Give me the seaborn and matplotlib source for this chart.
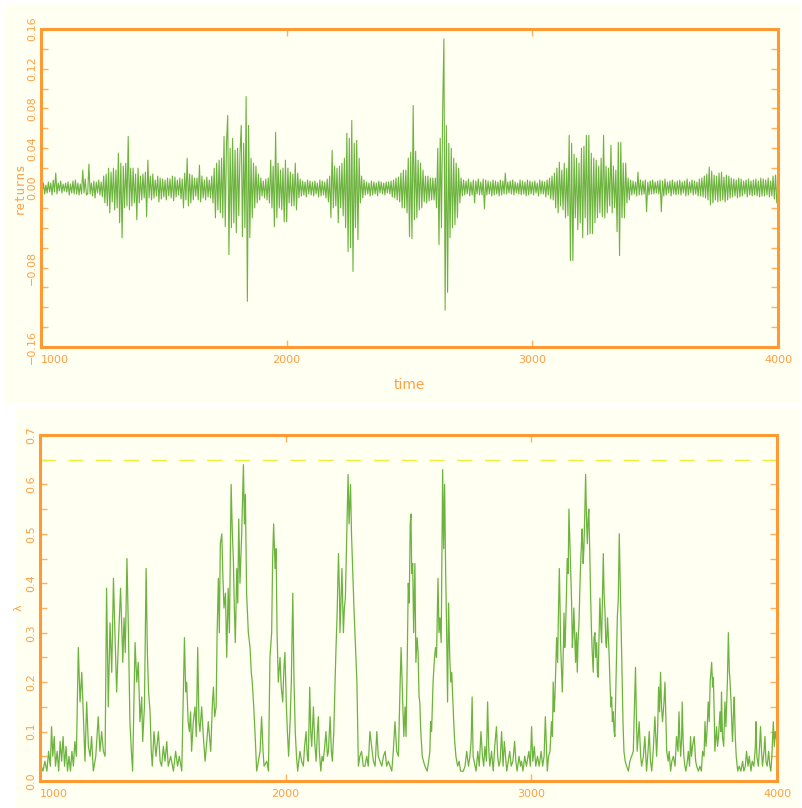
import numpy as np
import pandas as pd
import matplotlib
matplotlib.use("Agg")
import matplotlib.pyplot as plt
import seaborn as sns
from matplotlib.patches import Rectangle

# ---------------- data ----------------
# returns, sampled every 5 time steps from t=1000, in units of 0.001
ret_start, ret_step = 1000, 5
returns_milli = [
    4, -3, 5, -6, 3, -5, 6, -4, 5, -7, 8, -4, 15, -6, 5, -3, 7, -5, 4, -3,                 # 1000
    5, -4, 6, -7, 4, -5, 7, -6, 8, -6, 5, -7, 4, -6, 18, -5, 9, -7, -6, 24,                # 1100
    -6, 5, -8, 7, -10, 6, -5, 8, -7, 6, -9, 12, -15, 14, -18, 20, -25, 16, -14, 20,        # 1200
    -22, 18, -20, 35, -35, 25, -50, 22, -20, 25, -18, 52, -22, 20, -18, 20, -15, 14, -32, 20,  # 1300
    -15, 12, -12, 14, -10, 16, -29, 28, -10, 12, -12, 14, -10, 8, -8, 12, -14, 10, -11, 9,     # 1400
    -9, 8, -12, 10, -8, 9, -10, 12, -13, 11, -9, 8, -7, 10, -11, 9, -20, 15, -12, 30,      # 1500
    -18, 14, -15, 13, -12, 10, -8, 10, -12, 23, -14, 12, -10, 8, -12, 11, -9, 8, -10, 12,  # 1600
    -15, 20, -30, 25, -22, 28, -25, 30, -30, 52, -39, 45, 73, -67, 40, -40, 50, -35, 38, -45,  # 1700
    40, -28, 35, 63, -49, 45, -40, 92, -114, 63, -50, 30, -30, 25, -20, 22, -15, 14, -12, 10,  # 1800
    -8, 7, -10, 9, -12, 10, -15, 28, -20, 22, -39, 56, -30, 25, -20, 18, -22, 20, -34, 28,     # 1900
    -34, 20, -15, 16, -18, 14, -18, 25, -22, 15, -10, 9, -8, 7, -7, 6, -9, 8, -6, 7,       # 2000
    -7, 6, -8, 7, -6, 5, -9, 8, -8, 7, -7, 6, -10, 9, -14, 12, -30, 38, -20, 22,           # 2100
    -18, 20, -35, 22, -20, 25, -28, 30, -40, 55, -64, 50, -60, 68, -84, 45, -40, 48, -52, 30,  # 2200
    -15, 12, -10, 8, -7, 6, -6, 5, -8, 7, -7, 6, -6, 5, -8, 7, -5, 6, -6, 5,               # 2300
    -7, 6, -5, 6, -6, 7, -9, 8, -10, 10, -12, 11, -14, 15, -20, 18, -20, 18, -25, 30,      # 2400
    -49, 36, -51, 83, -32, 37, -30, 28, -22, 25, -20, 18, -14, 12, -15, 12, -13, 10, -12, 10,  # 2500
    -12, 10, -20, 40, -57, 50, -40, 77, 150, -123, 63, -105, 45, -50, 40, -40, 30, -37, 25, -30,  # 2600
    20, -15, 10, -8, 8, -7, 7, -6, 9, -8, 6, -7, 8, -15, 7, -6, 9, -7, 6, -7,              # 2700
    9, -21, 8, -7, 7, -6, 6, -8, 8, -7, 7, -6, 6, -8, 8, -7, 7, -6, 15, -6,                # 2800
    6, -5, 7, -6, 8, -7, 6, -5, 5, -6, 8, -7, 7, -6, 6, -8, 8, -7, 7, -6,                  # 2900
    6, -7, 7, -5, 5, -8, 8, -6, 7, -6, 6, -9, 8, -7, 10, -11, 12, -12, 15, -20,            # 3000
    20, -25, 26, -18, 18, -22, 25, -30, 20, -28, 53, -73, 45, -73, 34, -30, 30, -42, 25, -35,  # 3100
    40, -50, 42, -30, 53, -47, 53, -46, 35, -46, 30, -35, 28, -30, 22, -25, 30, -29, 53, -30,  # 3200
    22, -25, 20, -18, 43, -25, 22, -20, 18, -44, 46, -68, 46, -30, 25, -30, 25, -15, 10, -12,  # 3300
    8, -7, 7, -6, 6, -8, 16, -7, 8, -7, 7, -6, 8, -24, 6, -7, 7, -6, 8, -6,                # 3400
    6, -5, 7, -6, 8, -24, 7, -8, 9, -7, 6, -5, 7, -8, 8, -6, 6, -7, 7, -6,                 # 3500
    8, -7, 6, -5, 7, -8, 9, -7, 6, -5, 8, -7, 7, -6, 6, -8, 9, -8, 10, -9,                 # 3600
    12, -10, 14, -12, 21, -17, 17, -15, 13, -12, 12, -14, 15, -13, 16, -12, 11, -14, 13, -12,  # 3700
    12, -10, 10, -9, 9, -8, 8, -10, 10, -9, 9, -8, 7, -6, 8, -9, 9, -7, 7, -8,             # 3800
    8, -7, 9, -8, 7, -9, 10, -8, 9, -8, 8, -7, 10, -9, 7, -8, 12, -11, 13, -15,            # 3900
]

lam_t = [
    1000, 1005, 1012, 1020, 1028, 1035, 1042, 1047, 1052, 1058, 1063, 1070, 1076, 1082, 1088, 1094,
    1100, 1106, 1112, 1118, 1124, 1130, 1136, 1142, 1148,
    1156, 1163, 1170, 1176, 1183, 1190, 1197, 1204, 1210, 1217, 1227, 1237, 1244, 1251, 1258, 1265,
    1271, 1278, 1285, 1292, 1299, 1305, 1312, 1319, 1328, 1337, 1342, 1347, 1354, 1360, 1366, 1372, 1377,
    1387, 1394, 1400, 1407, 1414, 1418, 1425, 1432, 1437, 1442, 1448, 1453, 1457, 1464, 1472, 1482, 1489,
    1495, 1502, 1509, 1516, 1522, 1532, 1543, 1552, 1560, 1567, 1577,
    1588, 1593, 1597, 1603, 1608, 1613, 1617, 1624, 1631, 1636, 1642, 1647, 1651, 1658, 1665, 1672, 1679,
    1685, 1695, 1702, 1706, 1711, 1717, 1721, 1726, 1730, 1734, 1740, 1744, 1749, 1755, 1760, 1766, 1771,
    1778, 1783, 1787, 1791, 1795, 1801, 1805, 1809, 1814, 1821, 1828, 1832, 1836, 1841, 1848, 1855, 1860,
    1864, 1870, 1875, 1882, 1889, 1896, 1902, 1908, 1912, 1923, 1930,
    1936, 1943, 1947, 1951, 1957, 1961, 1965, 1970, 1977, 1982, 1988, 1993, 1997, 2003, 2007, 2012, 2018,
    2023, 2029, 2034, 2039, 2044, 2049, 2058, 2065, 2072, 2077, 2083, 2088, 2092, 2098, 2102, 2106, 2113,
    2118, 2124, 2129, 2133, 2137, 2143, 2148, 2153, 2159, 2164, 2170, 2174, 2181, 2186, 2190, 2196,
    2201, 2205, 2209, 2215, 2219, 2221, 2225, 2229, 2235, 2239, 2243, 2248, 2254, 2258, 2264, 2268, 2272,
    2278, 2282, 2286, 2290, 2296, 2302, 2309, 2316, 2323, 2330, 2336, 2343, 2350, 2357, 2364, 2371, 2377,
    2384, 2391, 2398, 2405, 2411, 2418, 2425, 2432, 2438, 2445, 2452, 2459,
    2466, 2470, 2474, 2477, 2481, 2486, 2490, 2495, 2499, 2503, 2507, 2510, 2513, 2517, 2521, 2526, 2530,
    2535, 2539, 2543, 2546, 2550, 2556, 2561, 2567, 2576, 2582, 2587, 2590, 2594, 2600, 2606, 2610, 2614,
    2620, 2624, 2628, 2633, 2636, 2639, 2643, 2647, 2651, 2655, 2659, 2663, 2668, 2672, 2676, 2680, 2684,
    2688, 2693, 2700, 2706, 2712, 2723, 2730, 2737, 2744, 2750, 2755, 2759, 2763, 2767, 2775, 2782, 2788,
    2795, 2801, 2806, 2811, 2817, 2822, 2827, 2831, 2838, 2845, 2851, 2858, 2863, 2868, 2873, 2879, 2885,
    2890, 2895, 2900, 2906, 2912, 2918, 2925, 2932, 2937, 2942, 2950, 2956, 2960, 2966, 2973, 2980, 2990, 2996,
    3001, 3006, 3012, 3018, 3025, 3032, 3040, 3046, 3052, 3057, 3065, 3070, 3076, 3082, 3086, 3089, 3093,
    3096, 3103, 3107, 3110, 3114, 3117, 3119, 3123, 3126, 3130, 3133, 3136, 3139, 3143, 3146, 3150, 3153,
    3157, 3160, 3164, 3167, 3170, 3173, 3177, 3180, 3184, 3187, 3190, 3194, 3197, 3200, 3204, 3207, 3211,
    3214, 3218, 3221, 3225, 3228, 3231, 3234, 3238, 3241, 3245, 3248, 3252, 3255, 3259, 3262, 3266, 3269,
    3272, 3276, 3279, 3283, 3286, 3290, 3293, 3296, 3300, 3303, 3306, 3310, 3313, 3317, 3320, 3324, 3327,
    3330, 3333, 3337, 3340, 3343, 3347, 3350, 3354, 3358, 3361, 3363, 3366, 3370, 3373, 3377, 3382, 3388,
    3395, 3401,
    3415, 3424, 3428, 3431, 3439, 3445, 3449, 3456, 3462, 3469, 3475, 3480, 3485, 3490, 3496, 3503, 3510,
    3514, 3518, 3522, 3526, 3530, 3534, 3540, 3544, 3548, 3551, 3557, 3561, 3567, 3572, 3578, 3585, 3591,
    3597, 3601, 3605, 3608, 3612, 3614, 3618, 3621, 3625, 3629, 3635, 3639, 3644, 3648, 3652, 3656, 3663,
    3669, 3673, 3680, 3686, 3692, 3697, 3703, 3707, 3711, 3715, 3720, 3724, 3728, 3734, 3738, 3741, 3745,
    3747, 3751, 3754, 3758, 3762, 3768, 3772, 3774, 3778, 3783, 3788, 3792, 3798, 3802, 3806, 3808, 3813,
    3817, 3819, 3823, 3826, 3830, 3834, 3840, 3846, 3853, 3860, 3865, 3871, 3876, 3882, 3887, 3894, 3899,
    3906, 3912, 3914, 3918, 3924, 3929, 3933, 3937, 3941, 3947, 3951, 3955, 3960, 3966, 3971, 3975, 3979,
    3985, 3989, 3993, 3999,
]
lam_v = [
    .05, .03, .02, .04, .02, .06, .03, .11, .05, .09, .03, .06, .02, .08, .04, .09,
    .03, .07, .02, .05, .02, .06, .03, .08, .05,
    .27, .16, .22, .14, .04, .16, .07, .05, .09, .02, .05, .13, .06, .10, .06, .05,
    .39, .15, .32, .22, .41, .30, .18, .28, .39, .24, .33, .26, .45, .30, .12, .06, .02,
    .28, .20, .24, .12, .17, .08, .15, .43, .26, .18, .14, .06, .03, .10, .05, .10, .04,
    .03, .07, .04, .08, .03, .05, .02, .06, .03, .05, .02,
    .29, .18, .20, .12, .10, .14, .06, .12, .15, .09, .27, .12, .10, .15, .09, .04, .08,
    .12, .06, .16, .19, .13, .15, .30, .41, .30, .48, .50, .42, .35, .38, .25, .39, .30,
    .60, .50, .45, .35, .28, .43, .36, .53, .40, .50, .64, .52, .58, .38, .30, .27, .22,
    .20, .15, .10, .02, .04, .06, .13, .06, .03, .04, .02,
    .25, .30, .45, .52, .43, .47, .30, .20, .25, .19, .16, .23, .26, .15, .10, .05, .12,
    .20, .38, .20, .10, .05, .02, .06, .04, .03, .07, .10, .05, .04, .19, .10, .07, .15,
    .08, .04, .10, .13, .06, .02, .05, .04, .07, .10, .05, .06, .13, .06, .04, .10,
    .20, .27, .33, .46, .38, .30, .36, .43, .30, .35, .37, .48, .62, .52, .60, .50, .44,
    .35, .30, .25, .20, .03, .05, .06, .03, .03, .05, .03, .10, .07, .04, .03, .10, .05,
    .04, .03, .05, .06, .03, .04, .03, .02, .06, .12, .06, .05,
    .20, .27, .20, .15, .09, .15, .09, .25, .40, .36, .52, .54, .42, .44, .30, .44, .24,
    .29, .26, .17, .16, .10, .05, .04, .03, .02, .04, .06, .12, .10, .20, .25, .27, .25,
    .41, .30, .33, .28, .45, .63, .47, .60, .43, .31, .16, .36, .25, .20, .22, .17, .12,
    .08, .05, .03, .04, .02, .02, .03, .06, .03, .05, .08, .17, .05, .04, .02, .06, .03,
    .10, .05, .03, .07, .04, .16, .06, .03, .06, .02, .07, .11, .05, .03, .04, .10, .03,
    .08, .05, .02, .04, .06, .03, .04, .08, .04, .02, .05, .03, .04, .02, .05, .03, .06, .03,
    .11, .04, .07, .03, .05, .03, .06, .03, .05, .13, .02, .05, .06, .12, .09, .20, .14,
    .17, .29, .24, .33, .43, .35, .28, .22, .18, .26, .34, .27, .30, .38, .45, .42, .55,
    .48, .43, .36, .27, .30, .35, .29, .24, .30, .22, .28, .32, .38, .43, .48, .51, .44,
    .47, .55, .62, .52, .48, .53, .55, .46, .38, .30, .26, .22, .29, .30, .25, .28, .22,
    .21, .30, .37, .31, .28, .38, .46, .38, .34, .28, .27, .33, .30, .25, .20, .15, .17,
    .12, .14, .10, .09, .16, .25, .33, .37, .50, .42, .37, .30, .20, .12, .06, .04, .03,
    .02, .04,
    .06, .23, .12, .06, .12, .05, .03, .05, .09, .02, .06, .10, .04, .02, .06, .13, .05,
    .10, .19, .14, .22, .15, .12, .16, .20, .12, .06, .04, .06, .02, .04, .05, .03, .09,
    .06, .14, .08, .05, .09, .16, .08, .05, .03, .02, .04, .06, .03, .09, .05, .07, .09,
    .04, .03, .02, .03, .02, .06, .05, .12, .07, .10, .16, .12, .20, .24, .19, .21, .12,
    .06, .09, .11, .07, .09, .14, .10, .18, .09, .07, .16, .11, .20, .30, .22, .21, .16,
    .10, .08, .14, .17, .09, .05, .02, .03, .02, .04, .02, .03, .06, .03, .05, .02, .04,
    .03, .07, .12, .05, .03, .07, .11, .06, .03, .06, .09, .04, .03, .06, .03, .02, .05,
    .12, .07, .10, .08,
]
lam_threshold = 0.65

x_ticks = [1000, 2000, 3000, 4000]
x_ticklabels = ["1000", "2000", "3000", "4000"]
ret_ticks = [-0.16, -0.14, -0.12, -0.10, -0.08, -0.06, -0.04, -0.02, 0.0,
             0.02, 0.04, 0.06, 0.08, 0.10, 0.12, 0.14, 0.16]
ret_ticklabels = ["\u22120.16", "", "", "", "\u22120.08", "", "", "", "0.00",
                  "", "0.04", "", "0.08", "", "0.12", "", "0.16"]
lam_ticks = [0.0, 0.05, 0.1, 0.15, 0.2, 0.25, 0.3, 0.35, 0.4, 0.45, 0.5, 0.55, 0.6, 0.65, 0.7]
lam_ticklabels = ["0.0", "", "0.1", "", "0.2", "", "0.3", "", "0.4", "", "0.5", "", "0.6", "", "0.7"]

returns = np.array(returns_milli) / 1000.0
ret_time = ret_start + ret_step * np.arange(len(returns))
df_ret = pd.DataFrame({"time": ret_time, "returns": returns})
df_lam = pd.DataFrame({"time": lam_t, "lam": lam_v})

# ---------------- style ----------------
sns.set_theme(style="white")
plt.rcParams["font.family"] = ["Liberation Sans Narrow", "DejaVu Sans"]

ORANGE = "#ff9933"
TICKC = "#ffb060"
TXT = "#ff9f45"
GREEN = "#6db33f"
CREAM = "#fffff2"
YELLOW = "#eeee3a"

W, H = 802, 808
fig = plt.figure(figsize=(W / 100, H / 100), dpi=100, facecolor="white")
fig.patches.append(Rectangle((4 / W, 1 - 403 / H), 796 / W, 399 / H,
                             transform=fig.transFigure, facecolor=CREAM,
                             edgecolor="none", zorder=-5))
fig.patches.append(Rectangle((16 / W, 0), 784 / W, 1 - 407 / H,
                             transform=fig.transFigure, facecolor=CREAM,
                             edgecolor="none", zorder=-5))

ax1 = fig.add_axes([41 / W, 1 - 347 / H, 737 / W, 318 / H])
ax2 = fig.add_axes([40 / W, 1 - 781 / H, 737 / W, 346 / H])

sns.lineplot(data=df_ret, x="time", y="returns", ax=ax1, color=GREEN,
             linewidth=0.8, estimator=None)
sns.lineplot(data=df_lam, x="time", y="lam", ax=ax2, color=GREEN,
             linewidth=0.9, estimator=None)
ax2.axhline(lam_threshold, color=YELLOW, linewidth=1.0, linestyle=(0, (11, 9)))

ax1.set_ylim(-0.16, 0.16)
ax2.set_ylim(0.0, 0.7)

for ax, yt, ytl in [(ax1, ret_ticks, ret_ticklabels), (ax2, lam_ticks, lam_ticklabels)]:
    ax.set_facecolor(CREAM)
    ax.set_xlim(1000, 4000)
    ax.set_xticks(x_ticks, x_ticklabels)
    ax.set_yticks(yt, ytl)
    ax.set_xlabel("")
    ax.set_ylabel("")
    for s in ax.spines.values():
        s.set_color(ORANGE)
        s.set_linewidth(2.2)
        s.set_visible(True)
    ax.tick_params(direction="in", length=5, width=1.0, color=TICKC,
                   labelcolor=TXT, labelsize=8, top=True, right=True,
                   bottom=True, left=True)
    ax.tick_params(axis="x", pad=6)
    ax.tick_params(axis="y", pad=3, labelrotation=90)
    for lab in ax.get_yticklabels():
        lab.set_va("center")
    ax.get_xticklabels()[0].set_ha("left")

fig.text(409 / W, 1 - 385 / H, "time", ha="center", va="center",
         color=TXT, fontsize=10)
fig.text(19 / W, 1 - 188 / H, "returns", ha="center", va="center",
         color=TXT, fontsize=9, rotation=90, family=["DejaVu Sans Mono"])
fig.text(19 / W, 1 - 608 / H, "\u03bb", ha="center", va="center",
         color=TXT, fontsize=8, rotation=90, family=["DejaVu Sans"])

fig.savefig("out.png", dpi=100, facecolor="white")
